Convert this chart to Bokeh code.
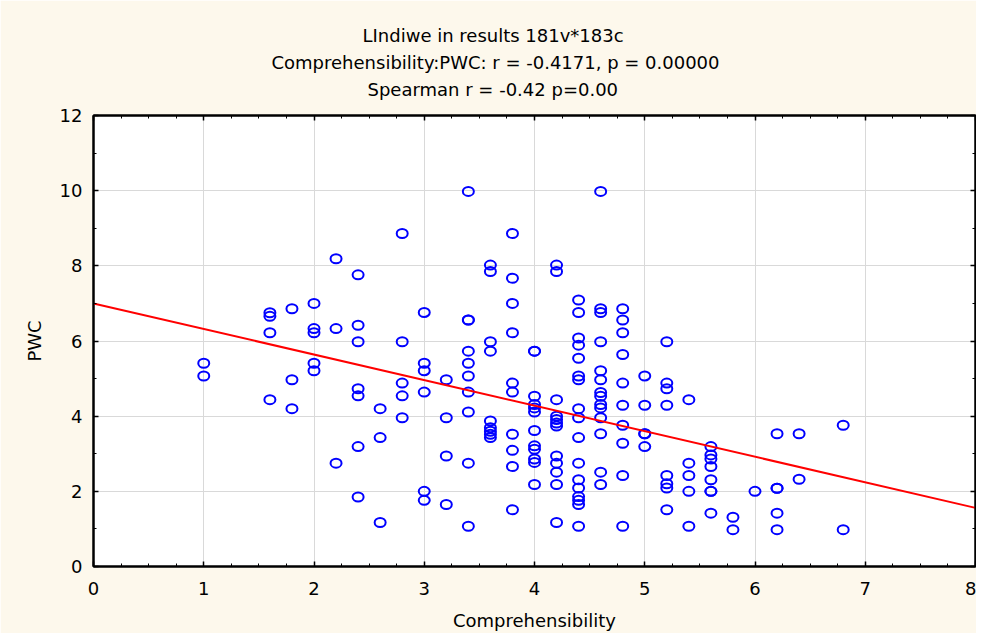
from bokeh.plotting import figure
from bokeh.models import ColumnDataSource, LinearAxis, Title, SingleIntervalTicker, Range1d
from bokeh.embed import file_html
from bokeh.resources import INLINE

# ---------------- data ----------------
title_lines = [
    "LIndiwe in results 181v*183c",
    "Comprehensibility:PWC:   r = -0.4171, p = 0.00000",
    "Spearman r = -0.42 p=0.00",
]
x_label = "Comprehensibility"
y_label = "PWC"
x_limits = [0, 8]
y_limits = [0, 12]

comp_levels = [1.0, 1.6, 1.8, 2.0, 2.2, 2.4, 2.6, 2.8, 3.0, 3.2, 3.4, 3.6, 3.8, 4.0,
               4.2, 4.4, 4.6, 4.8, 5.0, 5.2, 5.4, 5.6, 5.8, 6.0, 6.2, 6.4, 6.8]
pwc_at_level = [
    [5.41, 5.07],
    [6.75, 6.66, 6.22, 4.44],
    [6.86, 4.97, 4.20],
    [7.00, 6.33, 6.22, 5.41, 5.21],
    [8.19, 6.33, 2.75],
    [7.76, 6.42, 5.98, 4.73, 4.54, 3.19, 1.85],
    [4.20, 3.43, 1.17],
    [8.86, 5.98, 4.88, 4.54, 3.96],
    [6.76, 5.41, 5.21, 4.64, 2.00, 1.76],
    [4.97, 3.96, 2.94, 1.65],
    [9.98, 6.56, 6.56, 5.73, 5.41, 5.07, 4.64, 4.11, 2.75, 1.07],
    [8.02, 7.85, 5.98, 5.73, 3.87, 3.69, 3.60, 3.52, 3.43],
    [8.86, 7.67, 7.00, 6.22, 4.88, 4.64, 3.52, 3.09, 2.66, 1.51],
    [5.73, 5.73, 4.53, 4.31, 4.22, 4.11, 3.62, 3.21, 3.12, 2.86, 2.77, 2.18],
    [8.02, 7.85, 4.44, 4.00, 3.91, 3.82, 3.74, 2.94, 2.75, 2.51, 2.18, 1.17],
    [7.09, 6.76, 6.08, 5.89, 5.54, 5.07, 4.97, 4.20, 3.96, 3.43, 2.75, 2.31, 2.09,
     1.86, 1.76, 1.65, 1.07],
    [9.98, 6.86, 6.76, 5.98, 5.21, 4.97, 4.63, 4.53, 4.31, 4.22, 3.96, 3.53, 2.51, 2.18],
    [6.86, 6.56, 6.22, 5.64, 4.88, 4.29, 3.76, 3.28, 2.42, 1.07],
    [5.07, 4.29, 3.53, 3.53, 3.19],
    [5.98, 4.88, 4.73, 4.29, 2.42, 2.20, 2.09, 1.51],
    [4.44, 2.75, 2.42, 2.00, 1.07],
    [3.19, 2.97, 2.86, 2.66, 2.31, 2.00, 2.00, 1.42],
    [1.31, 0.98],
    [2.00],
    [3.53, 2.08, 2.08, 1.42, 0.98],
    [3.53, 2.32],
    [3.76, 0.98],
]
reg_intercept = 7.0
reg_slope = -0.68

# ---------------- build ----------------
comp = [lv for lv, ys in zip(comp_levels, pwc_at_level) for _ in ys]
pwc = [y for ys in pwc_at_level for y in ys]
src = ColumnDataSource(dict(x=comp, y=pwc))

line_x = list(x_limits)
line_y = [reg_intercept + reg_slope * v for v in line_x]

CREAM = "#fdf8ec"
FONT = "DejaVu Sans"
FS = "18px"

p = figure(width=976, height=633,
           x_range=Range1d(*x_limits), y_range=Range1d(*y_limits),
           output_backend="svg", toolbar_location=None, title=None,
           min_border_left=93, min_border_right=1,
           min_border_top=115, min_border_bottom=66,
           background_fill_color="white", border_fill_color=CREAM,
           outline_line_color="black", outline_line_width=2)

xt = SingleIntervalTicker(interval=1, num_minor_ticks=4)
yt = SingleIntervalTicker(interval=2, num_minor_ticks=2)


def style_axis(ax, ticker):
    ax.ticker = ticker
    ax.axis_line_color = "black"
    ax.axis_line_width = 2
    ax.major_tick_in = 5
    ax.major_tick_out = 0
    ax.minor_tick_in = 3
    ax.minor_tick_out = 0
    ax.major_tick_line_color = "black"
    ax.major_tick_line_width = 1.5
    ax.minor_tick_line_color = "black"
    ax.minor_tick_line_width = 1
    ax.major_label_text_font = FONT
    ax.major_label_text_font_size = FS
    ax.major_label_text_color = "black"
    ax.axis_label_text_font = FONT
    ax.axis_label_text_font_size = FS
    ax.axis_label_text_font_style = "normal"
    ax.axis_label_text_color = "black"


xa = p.xaxis[0]
ya = p.yaxis[0]
style_axis(xa, xt)
style_axis(ya, yt)
xa.axis_label = x_label
ya.axis_label = y_label
xa.major_label_standoff = 15
xa.axis_label_standoff = 12
ya.major_label_standoff = 11
ya.axis_label_standoff = 12

top = LinearAxis()
style_axis(top, SingleIntervalTicker(interval=1, num_minor_ticks=4))
top.major_label_text_color = None
top.major_label_text_font_size = "1px"
top.major_label_standoff = 0
p.add_layout(top, "above")

# invisible spacer between the frame and the title lines
spacer = LinearAxis(ticker=SingleIntervalTicker(interval=1, num_minor_ticks=0))
spacer.axis_line_color = None
spacer.major_tick_line_color = None
spacer.minor_tick_line_color = None
spacer.major_tick_in = 0
spacer.major_tick_out = 14
spacer.minor_tick_in = 0
spacer.minor_tick_out = 0
spacer.major_label_text_color = None
spacer.major_label_text_font_size = "1px"
spacer.major_label_standoff = 0
p.add_layout(spacer, "above")

right = LinearAxis()
style_axis(right, SingleIntervalTicker(interval=2, num_minor_ticks=2))
right.major_label_text_color = None
right.major_label_text_font_size = "1px"
right.major_label_standoff = 0
p.add_layout(right, "right")

p.xgrid.ticker = xt
p.ygrid.ticker = yt
p.xgrid.grid_line_color = "#d9d9d9"
p.ygrid.grid_line_color = "#d9d9d9"
p.xgrid.grid_line_width = 1
p.ygrid.grid_line_width = 1

p.ellipse(x="x", y="y", width=11, height=9, width_units="screen", height_units="screen",
          source=src, fill_color=None, line_color="#0000ff", line_width=2)
p.line(line_x, line_y, line_color="#ff0000", line_width=2)

offsets = [269, 178, 274]
standoffs = [4, 4, 4]
for txt, off, so in zip(reversed(title_lines), reversed(offsets), reversed(standoffs)):
    p.add_layout(Title(text=txt, align="left", offset=off, text_font=FONT,
                       text_font_size=FS, text_font_style="normal",
                       text_color="black", standoff=so), "above")

open("out.html", "w").write(file_html(p, INLINE))
